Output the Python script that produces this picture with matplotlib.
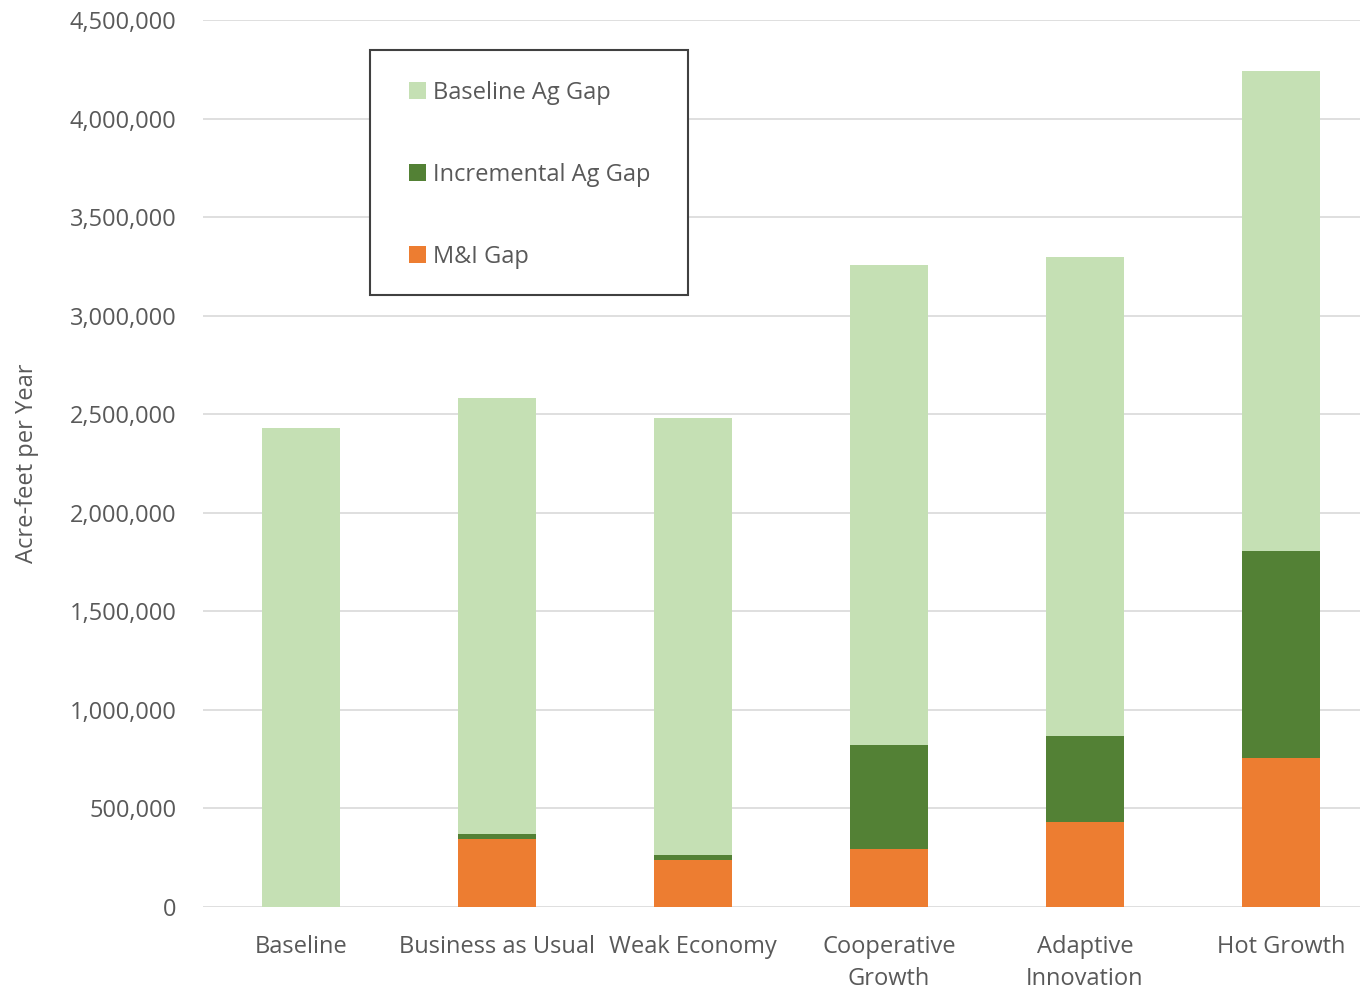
import matplotlib
matplotlib.use("Agg")
import matplotlib.pyplot as plt
from matplotlib.ticker import FuncFormatter, MultipleLocator
from matplotlib.patches import Rectangle
import numpy as np

categories = ["Baseline", "Business as Usual", "Weak Economy", "Cooperative\nGrowth", "Adaptive\nInnovation", "Hot Growth"]
mi_gap = [0, 345000, 240000, 294000, 431000, 756000]
incremental_ag_gap = [0, 23000, 25000, 528000, 437000, 1050000]
baseline_ag_gap = [2430000, 2214000, 2216000, 2435000, 2430000, 2435000]

c_base = "#c5e0b4"
c_incr = "#538135"
c_mi = "#ed7d31"
txt = "#595959"

plt.rcParams['font.family'] = ['Open Sans', 'DejaVu Sans']

W, H = 1360, 990
fig = plt.figure(figsize=(13.6, 9.9), dpi=100)
ax = fig.add_axes([203/W, 1 - 907/H, 1 - 203/W, (907 - 20)/H])

x = np.arange(len(categories))
w = 0.4
mi = np.array(mi_gap)
inc = np.array(incremental_ag_gap)
base = np.array(baseline_ag_gap)
ax.bar(x, mi, w, color=c_mi, label="M&I Gap", zorder=3)
ax.bar(x, inc, w, bottom=mi, color=c_incr, label="Incremental Ag Gap", zorder=3)
ax.bar(x, base, w, bottom=mi + inc, color=c_base, label="Baseline Ag Gap", zorder=3)

ax.set_ylim(0, 4500000)
ax.set_xlim(-0.5, 5.5 - 19/196)
ax.yaxis.set_major_locator(MultipleLocator(500000))
ax.yaxis.set_major_formatter(FuncFormatter(lambda v, p: f"{int(v):,}"))
ax.grid(axis='y', color="#d9d9d9", linewidth=1.2, zorder=0)
for s in ax.spines.values():
    s.set_visible(False)
ax.tick_params(axis='both', length=0, labelsize=17, colors=txt)
ax.tick_params(axis='x', pad=20)
ax.tick_params(axis='y', pad=19)
ax.set_xticks(x)
ax.set_xticklabels(categories, linespacing=1.45)
ax.set_ylabel("Acre-feet per Year", fontsize=17, color=txt, labelpad=22)

# legend box (white background + dark frame)
box = Rectangle((370/W, 1 - 295/H), 318/W, 245/H, transform=fig.transFigure,
                facecolor="white", edgecolor="#404040", linewidth=1.5, zorder=4)
ax.add_artist(box)
box.set_clip_on(False)

handles, labels = ax.get_legend_handles_labels()
order = [2, 1, 0]
leg = ax.legend([handles[i] for i in order], [labels[i] for i in order],
                loc='upper left', bbox_to_anchor=(409/W, 1 - 81/H),
                bbox_transform=fig.transFigure,
                fontsize=17, labelcolor=txt, frameon=False,
                handlelength=0.7, handleheight=0.7, handletextpad=0.3,
                labelspacing=2.45, borderpad=0, borderaxespad=0)
leg.set_zorder(5)

fig.savefig("out.png", dpi=100)
